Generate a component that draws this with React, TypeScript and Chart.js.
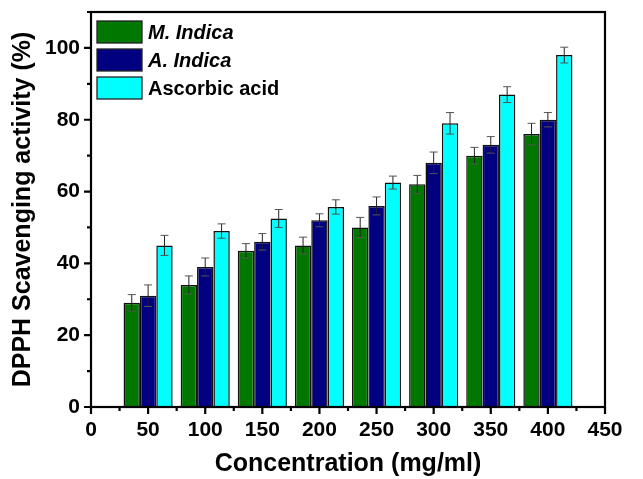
import React, { useEffect, useRef } from "react";
import { Chart, registerables } from "chart.js";

Chart.register(...registerables);

const concentrations = [50, 100, 150, 200, 250, 300, 350, 400];
const seriesNames = ["M. Indica", "A. Indica", "Ascorbic acid"];
const mIndica = [29, 34, 43.5, 45, 50, 62, 70, 76];
const mIndicaErr = [2.3, 2.5, 2.0, 2.3, 2.8, 2.5, 2.3, 3.0];
const aIndica = [31, 39, 46, 52, 56, 68, 73, 80];
const aIndicaErr = [3.0, 2.5, 2.3, 1.8, 2.5, 3.0, 2.3, 2.0];
const ascorbic = [45, 49, 52.5, 55.7, 62.5, 79, 87, 98];
const ascorbicErr = [2.8, 2.0, 2.5, 2.0, 1.8, 3.0, 2.2, 2.2];
const xTicks = [0, 50, 100, 150, 200, 250, 300, 350, 400, 450];
const yTicks = [0, 20, 40, 60, 80, 100];

const colors = ["#007800", "#000080", "#00FFFF"];
const italic = [true, true, false];

const errorBarPlugin = {
  id: "errorBars",
  afterDatasetsDraw(chart: any) {
    const ctx = chart.ctx;
    const y = chart.scales.y;
    chart.data.datasets.forEach((ds: any, di: number) => {
      const meta = chart.getDatasetMeta(di);
      meta.data.forEach((el: any, i: number) => {
        const v = ds.data[i].y;
        const e = ds.errors[i];
        const top = y.getPixelForValue(v + e);
        const bot = y.getPixelForValue(v - e);
        ctx.save();
        ctx.strokeStyle = "#222";
        ctx.lineWidth = 1;
        ctx.beginPath();
        ctx.moveTo(el.x, top);
        ctx.lineTo(el.x, bot);
        ctx.stroke();
        ctx.strokeStyle = "#555";
        ctx.beginPath();
        ctx.moveTo(el.x - 4, top);
        ctx.lineTo(el.x + 4, top);
        ctx.moveTo(el.x - 4, bot);
        ctx.lineTo(el.x + 4, bot);
        ctx.stroke();
        ctx.restore();
      });
    });
  },
};

const framePlugin = {
  id: "frame",
  afterDraw(chart: any) {
    const ctx = chart.ctx;
    const { left, right, top, bottom } = chart.chartArea;
    const x = chart.scales.x;
    const y = chart.scales.y;
    ctx.save();
    ctx.strokeStyle = "#000";
    ctx.lineWidth = 2.2;
    ctx.strokeRect(left, top, right - left, bottom - top);
    ctx.beginPath();
    for (let v = 0; v <= 450; v += 25) {
      const px = x.getPixelForValue(v);
      const len = v % 50 === 0 ? 7 : 4;
      ctx.moveTo(px, bottom);
      ctx.lineTo(px, bottom + len);
    }
    for (let v = 0; v <= 110; v += 10) {
      const py = y.getPixelForValue(v);
      const len = v % 20 === 0 ? 7 : 4;
      ctx.moveTo(left, py);
      ctx.lineTo(left - len, py);
    }
    ctx.stroke();
    // legend
    chart.data.datasets.forEach((ds: any, i: number) => {
      const bx = left + 6;
      const by = top + 9 + i * 28;
      ctx.fillStyle = ds.backgroundColor;
      ctx.fillRect(bx, by, 45, 22);
      ctx.lineWidth = 1.3;
      ctx.strokeStyle = "#222";
      ctx.strokeRect(bx, by, 45, 22);
      ctx.fillStyle = "#000";
      ctx.textBaseline = "middle";
      ctx.textAlign = "left";
      ctx.font = `${italic[i] ? "italic " : ""}bold 20px "Liberation Sans", Arial, sans-serif`;
      ctx.fillText(ds.label, bx + 51, by + 12);
    });
    ctx.restore();
  },
};

export default function App() {
  const ref = useRef<HTMLCanvasElement>(null);
  useEffect(() => {
    document.body.style.margin = "0";
    const font = { family: '"Liberation Sans", Arial, sans-serif', weight: "bold" as const };
    const mk = (label: string, vals: number[], errs: number[], i: number) => ({
      label,
      data: concentrations.map((c, k) => ({ x: c, y: vals[k] })),
      errors: errs,
      backgroundColor: colors[i],
      borderColor: "#111",
      borderWidth: 1.5,
      categoryPercentage: 0.86,
      barPercentage: 1.0,
    });
    const chart = new Chart(ref.current!, {
      type: "bar",
      data: {
        datasets: [
          mk(seriesNames[0], mIndica, mIndicaErr, 0),
          mk(seriesNames[1], aIndica, aIndicaErr, 1),
          mk(seriesNames[2], ascorbic, ascorbicErr, 2),
        ] as any,
      },
      options: {
        animation: false,
        responsive: false,
        layout: { padding: { top: 12, right: 38, left: 0, bottom: 0 } },
        plugins: { legend: { display: false }, tooltip: { enabled: false } },
        scales: {
          x: {
            type: "linear",
            min: 0,
            max: 450,
            offset: false,
            afterBuildTicks: (s: any) => {
              s.ticks = xTicks.map((v) => ({ value: v }));
            },
            grid: { display: false, drawTicks: false },
            border: { display: false },
            ticks: { color: "#000", font: { ...font, size: 21 }, padding: 11, maxRotation: 0, autoSkip: false },
            title: {
              display: true,
              text: "Concentration (mg/ml)",
              color: "#000",
              font: { ...font, size: 25 },
              padding: { top: 4, bottom: 0 },
            },
            afterFit: (s: any) => {
              s.height = 72;
              s.paddingLeft = 0;
              s.paddingRight = 0;
            },
          },
          y: {
            min: 0,
            max: 110,
            afterBuildTicks: (s: any) => {
              s.ticks = yTicks.map((v) => ({ value: v }));
            },
            grid: { display: false, drawTicks: false },
            border: { display: false },
            ticks: { color: "#000", font: { ...font, size: 21 }, padding: 11 },
            title: {
              display: true,
              text: "DPPH Scavenging activity (%)",
              color: "#000",
              font: { ...font, size: 25 },
              padding: { top: 8, bottom: 0 },
            },
            afterFit: (s: any) => {
              s.width = 91;
              s.paddingTop = 0;
              s.paddingBottom = 0;
            },
          },
        },
      },
      plugins: [errorBarPlugin, framePlugin],
    } as any);
    return () => chart.destroy();
  }, []);
  return <canvas ref={ref} width={643} height={479} style={{ display: "block" }} />;
}
